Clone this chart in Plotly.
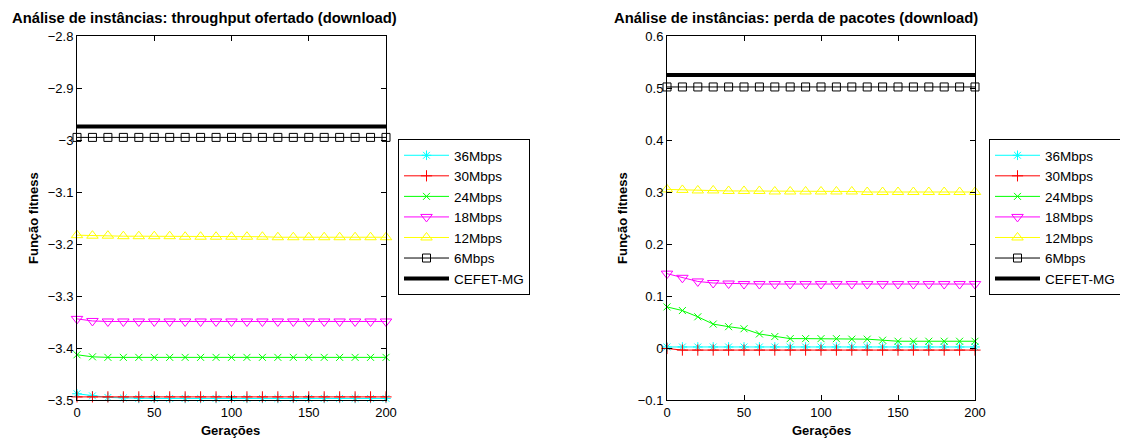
import plotly.graph_objects as go

# The page body has an 8px margin, so the figure is placed at (8, 8) inside the 1128x439 window.
PAGE_W, PAGE_H, OFF = 1128, 439, 8
W, H = PAGE_W - OFF, PAGE_H - OFF


def px(xp):
    return (xp - OFF) / W


def py(yp):
    return 1 - (yp - OFF) / H


generations = [0, 10, 20, 30, 40, 50, 60, 70, 80, 90, 100, 110, 120, 130, 140, 150, 160, 170, 180, 190, 200]
series_names = ["36Mbps", "30Mbps", "24Mbps", "18Mbps", "12Mbps", "6Mbps", "CEFET-MG"]

# Left: throughput ofertado (download)
thr_36 = [-3.488, -3.492, -3.495, -3.496, -3.497, -3.497, -3.497, -3.497, -3.497, -3.497, -3.497,
          -3.497, -3.497, -3.497, -3.497, -3.497, -3.497, -3.497, -3.497, -3.497, -3.497]
thr_30 = [-3.494, -3.494, -3.494, -3.494, -3.494, -3.494, -3.494, -3.494, -3.494, -3.494, -3.494,
          -3.494, -3.494, -3.494, -3.494, -3.494, -3.494, -3.494, -3.494, -3.494, -3.494]
thr_24 = [-3.413, -3.417, -3.418, -3.418, -3.418, -3.418, -3.418, -3.418, -3.418, -3.418, -3.418,
          -3.418, -3.418, -3.418, -3.418, -3.418, -3.418, -3.418, -3.418, -3.418, -3.418]
thr_18 = [-3.344, -3.348, -3.349, -3.349, -3.349, -3.349, -3.349, -3.349, -3.349, -3.349, -3.349,
          -3.349, -3.349, -3.349, -3.349, -3.349, -3.349, -3.349, -3.349, -3.349, -3.349]
thr_12 = [-3.183, -3.184, -3.184, -3.185, -3.185, -3.185, -3.185, -3.186, -3.186, -3.186, -3.186,
          -3.186, -3.186, -3.187, -3.187, -3.187, -3.187, -3.187, -3.187, -3.187, -3.187]
thr_6 = [-2.995, -2.995, -2.995, -2.995, -2.995, -2.995, -2.995, -2.995, -2.995, -2.995, -2.995,
         -2.995, -2.995, -2.995, -2.995, -2.995, -2.995, -2.995, -2.995, -2.995, -2.995]
thr_cefet = [-2.974, -2.974, -2.974, -2.974, -2.974, -2.974, -2.974, -2.974, -2.974, -2.974, -2.974,
             -2.974, -2.974, -2.974, -2.974, -2.974, -2.974, -2.974, -2.974, -2.974, -2.974]

# Right: perda de pacotes (download)
loss_36 = [0.002, 0.002, 0.002, 0.002, 0.002, 0.002, 0.002, 0.002, 0.002, 0.002, 0.002,
           0.002, 0.002, 0.002, 0.002, 0.002, 0.002, 0.002, 0.002, 0.002, 0.002]
loss_30 = [-0.001, -0.004, -0.004, -0.004, -0.004, -0.004, -0.004, -0.004, -0.004, -0.004, -0.004,
           -0.004, -0.004, -0.004, -0.004, -0.004, -0.004, -0.004, -0.004, -0.004, -0.004]
loss_24 = [0.079, 0.072, 0.060, 0.046, 0.041, 0.037, 0.027, 0.022, 0.018, 0.018, 0.018,
           0.018, 0.017, 0.017, 0.015, 0.013, 0.013, 0.013, 0.013, 0.013, 0.013]
loss_18 = [0.143, 0.135, 0.128, 0.125, 0.124, 0.123, 0.123, 0.123, 0.123, 0.123, 0.123,
           0.123, 0.123, 0.123, 0.123, 0.123, 0.123, 0.123, 0.123, 0.123, 0.123]
loss_12 = [0.305, 0.304, 0.303, 0.303, 0.302, 0.302, 0.302, 0.301, 0.301, 0.301, 0.301,
           0.301, 0.301, 0.300, 0.300, 0.300, 0.300, 0.300, 0.300, 0.300, 0.300]
loss_6 = [0.502, 0.502, 0.502, 0.502, 0.502, 0.502, 0.502, 0.502, 0.502, 0.502, 0.502,
          0.502, 0.502, 0.502, 0.502, 0.502, 0.502, 0.502, 0.502, 0.502, 0.502]
loss_cefet = [0.525, 0.525, 0.525, 0.525, 0.525, 0.525, 0.525, 0.525, 0.525, 0.525, 0.525,
              0.525, 0.525, 0.525, 0.525, 0.525, 0.525, 0.525, 0.525, 0.525, 0.525]

colors = ["#00FFFF", "#FF0000", "#00FF00", "#FF00FF", "#FFFF00", "#000000", "#000000"]
symbols = ["asterisk-open", "cross-thin-open", "x-thin-open", "triangle-down-open",
           "triangle-up-open", "square-open", None]
sizes = [8, 8, 7, 10, 10, 8, 0]

FONT = "Liberation Sans, Arial, Helvetica, sans-serif"

fig = go.Figure()


def add_panel(data, xa, ya, legend):
    for i, (name, vals) in enumerate(zip(series_names, data)):
        if symbols[i] is None:
            fig.add_trace(go.Scatter(x=generations, y=vals, name=name, mode="lines",
                                     line=dict(color=colors[i], width=4),
                                     xaxis=xa, yaxis=ya, legend=legend))
        else:
            fig.add_trace(go.Scatter(x=generations, y=vals, name=name, mode="lines+markers",
                                     line=dict(color=colors[i], width=1),
                                     marker=dict(symbol=symbols[i], size=sizes[i], color=colors[i],
                                                 line=dict(color=colors[i], width=1)),
                                     xaxis=xa, yaxis=ya, legend=legend, cliponaxis=False))


add_panel([thr_36, thr_30, thr_24, thr_18, thr_12, thr_6, thr_cefet], "x", "y", "legend")
add_panel([loss_36, loss_30, loss_24, loss_18, loss_12, loss_6, loss_cefet], "x2", "y2", "legend2")

ydom = [py(400), py(36)]
axis_common = dict(showline=True, linecolor="black", linewidth=1, mirror="ticks", ticks="inside",
                   ticklen=5, tickcolor="black", showgrid=False, zeroline=False, automargin=False,
                   tickfont=dict(family=FONT, size=13, color="black"))

legend_common = dict(xanchor="left", yanchor="middle", bordercolor="black", borderwidth=1,
                     bgcolor="white", font=dict(family=FONT, size=13.5, color="black"),
                     itemwidth=45, tracegroupgap=0)

fig.update_layout(
    width=W, height=H,
    margin=dict(l=0, r=0, t=0, b=0, autoexpand=False),
    paper_bgcolor="white", plot_bgcolor="white",
    font=dict(family=FONT, color="black"),
    xaxis=dict(domain=[px(77), px(386)], range=[0, 200], tickvals=[0, 50, 100, 150, 200],
               anchor="y", **axis_common),
    yaxis=dict(domain=ydom, range=[-3.5, -2.8], dtick=0.1, tick0=-3.5, anchor="x", **axis_common),
    xaxis2=dict(domain=[px(667), px(975)], range=[0, 200], tickvals=[0, 50, 100, 150, 200],
                anchor="y2", **axis_common),
    yaxis2=dict(domain=ydom, range=[-0.1, 0.6], dtick=0.1, tick0=-0.1, anchor="x2", **axis_common),
    legend=dict(x=px(398), y=py(217), **legend_common),
    legend2=dict(x=px(989), y=py(217), **legend_common),
    showlegend=True,
)

annots = [
    dict(text="<b>Análise de instâncias: throughput ofertado (download)</b>", x=px(10), y=py(18),
         xanchor="left", yanchor="middle", font=dict(size=14.8)),
    dict(text="<b>Análise de instâncias: perda de pacotes (download)</b>", x=px(612), y=py(18),
         xanchor="left", yanchor="middle", font=dict(size=14.8)),
    dict(text="<b>Gerações</b>", x=px(231), y=py(430), xanchor="center", yanchor="middle",
         font=dict(size=13)),
    dict(text="<b>Gerações</b>", x=px(821), y=py(430), xanchor="center", yanchor="middle",
         font=dict(size=13)),
    dict(text="<b>Função fitness</b>", x=px(33), y=py(218), xanchor="center", yanchor="middle",
         textangle=-90, font=dict(size=13)),
    dict(text="<b>Função fitness</b>", x=px(622), y=py(218), xanchor="center", yanchor="middle",
         textangle=-90, font=dict(size=13)),
]
for a in annots:
    a.update(xref="paper", yref="paper", showarrow=False)
    a["font"].update(family=FONT, color="black")
fig.update_layout(annotations=annots)

fig.write_html("out.html")
